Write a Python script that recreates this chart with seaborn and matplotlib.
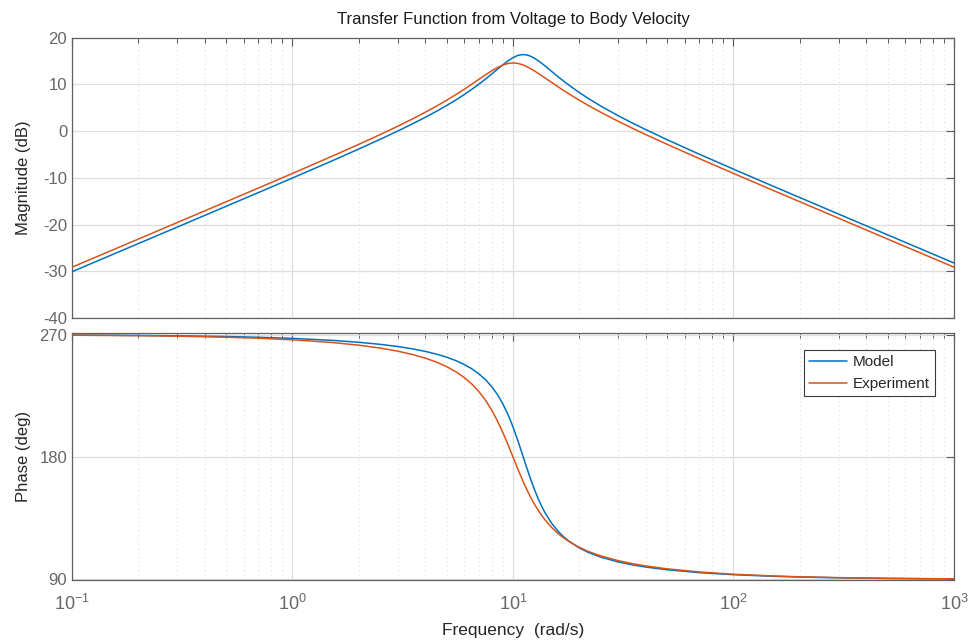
import matplotlib
matplotlib.use("Agg")
import matplotlib.pyplot as plt
import seaborn as sns
import pandas as pd
from matplotlib.ticker import LogLocator, FixedLocator, NullFormatter
from matplotlib.lines import Line2D

# ---- data ----
freq = [0.1, 0.2, 0.3, 0.5, 0.7, 1, 1.5, 2, 2.5, 3, 3.5, 4, 4.5, 5, 5.5,
        6, 6.5, 7, 7.5, 8, 8.5, 9, 9.5, 10, 10.5, 11, 11.5, 12, 12.5, 13,
        13.5, 14, 15, 16, 17, 18, 20, 22, 25, 30, 35, 40, 50, 70, 100,
        150, 200, 300, 500, 700, 1000]

model_mag = [-30.09, -24.06, -20.54, -16.09, -13.15, -10.03, -6.43, -3.82, -1.74, 0.01,
             1.56, 2.96, 4.26, 5.48, 6.66, 7.81, 8.94, 10.04, 11.14, 12.21,
             13.24, 14.20, 15.05, 15.73, 16.19, 16.38, 16.33, 16.05, 15.62, 15.10,
             14.52, 13.92, 12.75, 11.66, 10.68, 9.79, 8.25, 6.97, 5.38, 3.30,
             1.67, 0.33, -1.83, -4.94, -8.13, -11.71, -14.22, -17.76, -22.20, -25.12,
             -28.22]
exp_mag = [-29.12, -23.10, -19.57, -15.12, -12.18, -9.05, -5.44, -2.82, -0.73, 1.05,
           2.61, 4.04, 5.36, 6.61, 7.80, 8.94, 10.04, 11.08, 12.04, 12.90,
           13.62, 14.16, 14.49, 14.60, 14.50, 14.24, 13.86, 13.40, 12.90, 12.39,
           11.87, 11.36, 10.39, 9.50, 8.68, 7.93, 6.61, 5.48, 4.04, 2.11,
           0.56, -0.73, -2.82, -5.88, -9.05, -12.61, -15.12, -18.65, -23.10, -26.02,
           -29.12]

model_phase = [269.73, 269.46, 269.18, 268.64, 268.09, 267.26, 265.86, 264.40, 262.88, 261.28,
               259.56, 257.71, 255.69, 253.45, 250.96, 248.15, 244.93, 241.23, 236.91, 231.85,
               225.96, 219.03, 211.08, 202.13, 192.47, 182.57, 172.96, 164.09, 156.23, 149.45,
               143.67, 138.77, 131.09, 125.45, 121.18, 117.86, 113.06, 109.75, 106.34, 102.80,
               100.58, 99.05, 97.05, 94.92, 93.41, 92.26, 91.69, 91.12, 90.67, 90.48,
               90.34]
exp_phase = [269.63, 269.25, 268.88, 268.13, 267.37, 266.23, 264.29, 262.26, 260.14, 257.87,
             255.42, 252.75, 249.80, 246.51, 242.79, 238.56, 233.73, 228.17, 221.82, 214.61,
             206.60, 197.94, 188.95, 180.00, 171.48, 163.68, 156.73, 150.65, 145.39, 140.85,
             136.94, 133.56, 128.04, 123.77, 120.39, 117.65, 113.49, 110.48, 107.25, 103.74,
             101.47, 99.86, 97.74, 95.43, 93.77, 92.50, 91.87, 91.25, 90.75, 90.53,
             90.37]

series_names = ["Model", "Experiment"]
mag_ticks = [-40, -30, -20, -10, 0, 10, 20]
phase_ticks = [90, 180, 270]

colors = {"Model": "#0072BD", "Experiment": "#D95319"}

df = pd.concat([
    pd.DataFrame({"freq": freq, "mag": model_mag, "phase": model_phase, "series": "Model"}),
    pd.DataFrame({"freq": freq, "mag": exp_mag, "phase": exp_phase, "series": "Experiment"}),
], ignore_index=True)

sns.set_style("white")
plt.rcParams["font.family"] = ["Liberation Sans", "DejaVu Sans"]
plt.rcParams["axes.unicode_minus"] = False

fig = plt.figure(figsize=(9.69, 6.40), dpi=100)
ax1 = fig.add_axes([0.0743, 0.5031, 0.9102, 0.4380])
ax2 = fig.add_axes([0.0743, 0.0933, 0.9102, 0.3859])

for ax, col in ((ax1, "mag"), (ax2, "phase")):
    sns.lineplot(data=df, x="freq", y=col, hue="series", hue_order=series_names,
                 palette=colors, linewidth=1.1, legend=False, ax=ax,
                 estimator=None, sort=True, zorder=3)
    ax.set_xscale("log")
    ax.set_xlim(0.1, 1000)
    ax.xaxis.set_major_locator(LogLocator(base=10, numticks=10))
    ax.xaxis.set_minor_locator(LogLocator(base=10, subs=range(2, 10), numticks=20))
    ax.xaxis.set_minor_formatter(NullFormatter())
    ax.grid(True, which="major", color="#dedede", linewidth=0.9, linestyle="-", zorder=0)
    ax.grid(True, which="minor", axis="x", color="#dcdcdc", linewidth=0.8,
            linestyle=(0, (1, 3)), zorder=0)
    ax.set_axisbelow(True)
    ax.tick_params(which="both", direction="in", top=True, right=True,
                   colors="#595959", labelcolor="#666666", labelsize=12)
    ax.tick_params(which="major", length=6, width=0.8)
    ax.tick_params(which="minor", length=3.5, width=0.7)
    for s in ax.spines.values():
        s.set_color("#606060")
        s.set_linewidth(0.9)

ax1.set_ylim(-40, 20)
ax1.yaxis.set_major_locator(FixedLocator(mag_ticks))
ax1.set_xticklabels([])
ax1.set_xlabel("")
ax1.set_ylabel("Magnitude (dB)", fontsize=12, color="#262626")
ax1.yaxis.set_label_coords(-0.046, 0.5)
ax1.set_title("Transfer Function from Voltage to Body Velocity", fontsize=12,
              color="#1a1a1a", pad=10)

ax2.set_ylim(89.3, 271.0)
ax2.yaxis.set_major_locator(FixedLocator(phase_ticks))
ax2.set_ylabel("Phase (deg)", fontsize=12, color="#262626")
ax2.yaxis.set_label_coords(-0.046, 0.5)
ax2.set_xlabel("Frequency  (rad/s)", fontsize=12.5, color="#262626", labelpad=6)
ax2.tick_params(axis="x", which="major", pad=10, labelsize=13)

handles = [Line2D([0], [0], color=colors[n], linewidth=1.1) for n in series_names]
leg = ax2.legend(handles, series_names, loc="upper right",
                 bbox_to_anchor=(0.9785, 0.932), borderaxespad=0.0,
                 fontsize=11, frameon=True,
                 fancybox=False, edgecolor="#3a3a3a", framealpha=1,
                 handlelength=2.5, borderpad=0.35, labelspacing=0.5,
                 handletextpad=0.35)
leg.get_frame().set_linewidth(0.8)

fig.savefig("out.png", dpi=100)
